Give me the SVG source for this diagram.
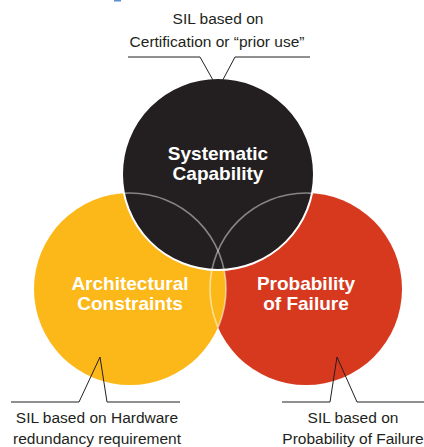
<svg xmlns="http://www.w3.org/2000/svg" width="424" height="447" viewBox="0 0 424 447">
  <style>
    .label { font-family: "Liberation Sans", Arial, sans-serif; font-size: 15.5px; fill: #231f20; text-anchor: middle; }
    .title { font-family: "Liberation Sans", Arial, sans-serif; font-size: 19px; font-weight: bold; fill: #ffffff; text-anchor: middle; }
    .leader { fill: none; stroke: #231f20; stroke-width: 1; }
    .seam { fill: none; stroke: #ffffff; stroke-opacity: 0.55; stroke-width: 1.6; }
    .seam-dark { fill: none; stroke: #ffffff; stroke-opacity: 0.45; stroke-width: 1.6; }
  </style>
  <defs>
    <clipPath id="clip-yellow"><circle cx="130" cy="289" r="96"/></clipPath>
    <clipPath id="clip-red"><circle cx="306" cy="289" r="96"/></clipPath>
    <clipPath id="clip-black"><circle cx="218" cy="174" r="96"/></clipPath>
  </defs>

  <rect width="424" height="447" fill="#ffffff"/>
  <rect x="114" y="0" width="7" height="1.5" fill="#5b8fd0"/>

  <!-- Probability of Failure -->
  <g id="node-probability">
    <circle cx="306" cy="289" r="96" fill="#d7391f"/>
  </g>

  <!-- Architectural Constraints -->
  <g id="node-architectural">
    <circle cx="130" cy="289" r="96" fill="#fbb818"/>
  </g>

  <!-- light seams where the lower circles overlap -->
  <g id="lens-seams">
    <circle cx="306" cy="289" r="96" class="seam" clip-path="url(#clip-yellow)"/>
    <circle cx="130" cy="289" r="96" class="seam" clip-path="url(#clip-red)"/>
  </g>

  <!-- Systematic Capability -->
  <g id="node-systematic">
    <circle cx="218" cy="174" r="96" fill="#231f20" stroke="#ffffff" stroke-width="2"/>
    <circle cx="130" cy="289" r="96" class="seam-dark" clip-path="url(#clip-black)"/>
    <circle cx="306" cy="289" r="96" class="seam-dark" clip-path="url(#clip-black)"/>
  </g>

  <g id="titles">
    <text class="title" x="218" y="160">Systematic</text>
    <text class="title" x="218" y="180">Capability</text>
    <text class="title" x="130" y="290">Architectural</text>
    <text class="title" x="130" y="310">Constraints</text>
    <text class="title" x="306" y="290">Probability</text>
    <text class="title" x="306" y="310">of Failure</text>
  </g>

  <!-- callout leaders -->
  <g id="connectors">
    <path class="leader" d="M128,57 H200 L218,89 L235,57 H310"/>
    <path class="leader" d="M11,402 H79 L100,357 L107,402 H180"/>
    <path class="leader" d="M282,402 H330 L337,357 L357,402 H424"/>
  </g>

  <g id="callout-top">
    <text class="label" x="218" y="24">SIL based on</text>
    <text class="label" x="217" y="47">Certification or “prior use”</text>
  </g>
  <g id="callout-left">
    <text class="label" x="97" y="423">SIL based on Hardware</text>
    <text class="label" x="97" y="444">redundancy requirement</text>
  </g>
  <g id="callout-right">
    <text class="label" x="353" y="423">SIL based on</text>
    <text class="label" x="353" y="444">Probability of Failure</text>
  </g>
</svg>
